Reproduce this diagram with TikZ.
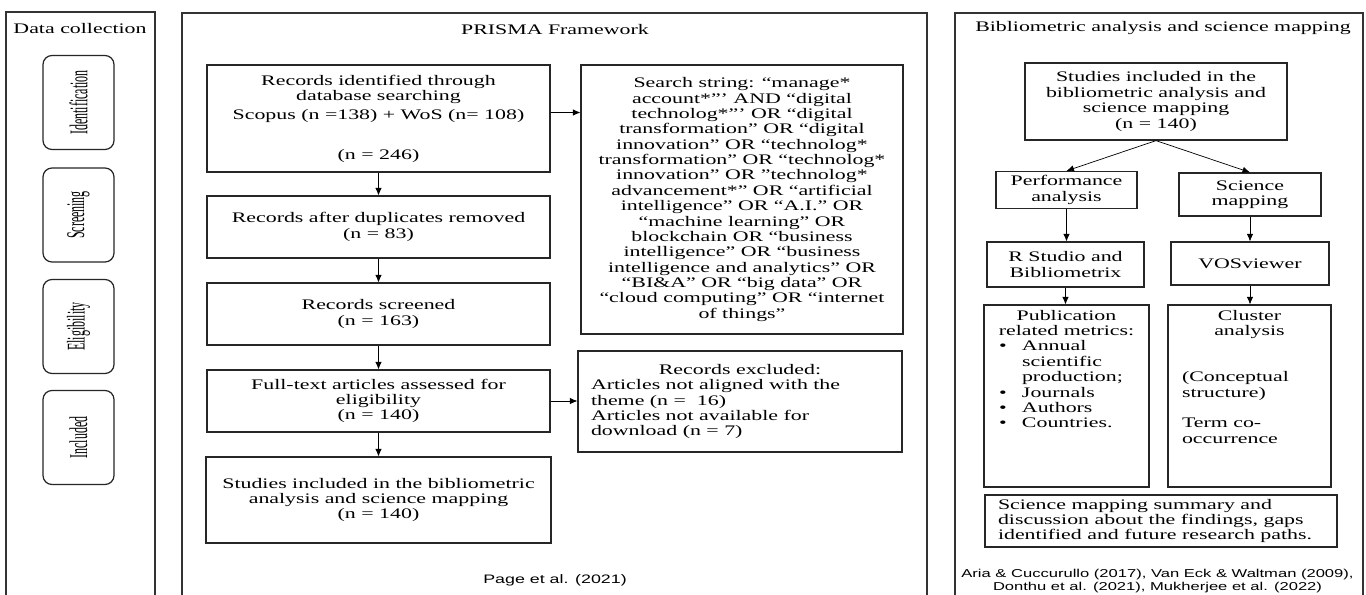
\documentclass[tikz,border=0pt]{standalone}
\usepackage{fontspec}
\usepackage{graphicx}
\setmainfont{Liberation Serif}[FakeStretch=1.5]
\newfontfamily\phasefont{Liberation Serif}[FakeStretch=0.47]
\newfontfamily\citefont{Liberation Sans}[FakeStretch=1.45]
\usetikzlibrary{arrows.meta}

\begin{document}
\begin{tikzpicture}[
    >={Latex[length=1.5mm, width=1.3mm]},
    every node/.style={font=\fontsize{8.3}{8.75}\selectfont},
    panel/.style={draw=black!80, line width=0.8pt},
    box/.style={draw=black!85, line width=0.7pt, align=center, inner sep=0pt},
    phase/.style={draw=black!85, line width=0.7pt, rounded corners=0.18cm, minimum width=1.42cm, minimum height=1.88cm, inner sep=0pt},
    cite/.style={font=\citefont\fontsize{6.5}{6.9}\selectfont, align=center}
]
    % Page
    \clip (0,0) rectangle (27.32,-11.88);
    \fill[white] (0,0) rectangle (27.32,-11.88);

    % Panels
    \draw[panel] (0.12,-0.24) rectangle (3.10,-12.2);
    \draw[panel] (3.64,-0.26) rectangle (18.54,-12.2);
    \draw[panel] (19.10,-0.26) rectangle (27.26,-12.2);

    % Titles
    \node (t1) at (1.60,-0.58) {Data collection};
    \node (t2) at (11.10,-0.60) {PRISMA Framework};
    \node (t3) at (23.26,-0.56) {Bibliometric analysis and science mapping};

    % Phases
    \node[phase] (ident) at (1.57,-2.05) {\rotatebox{90}{\phasefont\fontsize{14.5}{14.5}\selectfont Identification}};
    \node[phase] (screen) at (1.57,-4.30) {\rotatebox{90}{\phasefont\fontsize{14.5}{14.5}\selectfont Screening}};
    \node[phase] (eligib) at (1.57,-6.53) {\rotatebox{90}{\phasefont\fontsize{14.5}{14.5}\selectfont Eligibility}};
    \node[phase] (includ) at (1.57,-8.75) {\rotatebox{90}{\phasefont\fontsize{14.5}{14.5}\selectfont Included}};

    % PRISMA flow
    \node[box, minimum width=6.86cm, minimum height=2.14cm] (rec) at (7.57,-2.37) {Records identified through\\database searching\\[0.07cm]Scopus (n =138) + WoS (n= 108)\\[0.49cm](n = 246)};
    \node[box, minimum width=6.86cm, minimum height=1.24cm] (dup) at (7.57,-4.54) {Records after duplicates removed\\(n = 83)};
    \node[box, minimum width=6.86cm, minimum height=1.24cm] (scr) at (7.57,-6.28) {Records screened\\(n = 163)};
    \node[box, minimum width=6.86cm, minimum height=1.24cm] (fulltxt) at (7.57,-8.02) {Full-text articles assessed for\\eligibility\\(n = 140)};
    \node[box, minimum width=6.90cm, minimum height=1.72cm] (studies) at (7.57,-10.00) {Studies included in the bibliometric\\analysis and science mapping\\(n = 140)};

    % Search string
    \node[box, minimum width=6.44cm, minimum height=5.38cm] (srch) at (14.84,-3.99) {Search string: “manage*\\account*”’ AND “digital\\technolog*”’ OR “digital\\transformation” OR “digital\\innovation” OR “technolog*\\transformation” OR “technolog*\\innovation” OR "technolog*\\advancement*" OR “artificial\\intelligence” OR “A.I.” OR\\“machine learning” OR\\blockchain OR “business\\intelligence” OR “business\\intelligence and analytics” OR\\“BI\&A” OR “big data” OR\\“cloud computing” OR “internet\\of things”};

    % Exclusions
    \node[box, minimum width=6.48cm, minimum height=2.02cm] (excl) at (14.80,-8.03) {\parbox{5.96cm}{\centering Records excluded:\par\raggedright Articles not aligned with the\\theme (n = \ 16)\\Articles not available for\\download (n = 7)}};

    \node[cite, font=\citefont\fontsize{7}{7.4}\selectfont] (page) at (11.10,-11.60) {Page et al. (2021)};

    % Bibliometric side
    \node[box, minimum width=5.24cm, minimum height=1.54cm] (bs) at (23.12,-2.03) {Studies included in the\\bibliometric analysis and\\science mapping\\(n = 140)};
    \node[box, minimum width=2.82cm, minimum height=0.74cm] (perf) at (21.33,-3.80) {Performance\\analysis};
    \node[box, minimum width=2.84cm, minimum height=0.86cm] (smap) at (25.00,-3.89) {Science\\mapping};
    \node[box, minimum width=3.14cm, minimum height=0.90cm] (rstu) at (21.31,-5.29) {R Studio and\\Bibliometrix};
    \node[box, minimum width=3.16cm, minimum height=0.86cm] (vos) at (25.00,-5.27) {VOSviewer};
    \node[box, minimum width=3.30cm, minimum height=3.64cm] (pub) at (21.33,-7.92) {\parbox[c][3.44cm][t]{3.10cm}{\centering Publication\\related metrics:\par\raggedright
        \hspace*{0.2cm}\makebox[0.46cm][l]{\textbullet}Annual\\
        \hspace*{0.66cm}scientific\\
        \hspace*{0.66cm}production;\\
        \hspace*{0.2cm}\makebox[0.46cm][l]{\textbullet}Journals\\
        \hspace*{0.2cm}\makebox[0.46cm][l]{\textbullet}Authors\\
        \hspace*{0.2cm}\makebox[0.46cm][l]{\textbullet}Countries.}};
    \node[box, minimum width=3.26cm, minimum height=3.64cm] (clu) at (24.99,-7.92) {\parbox[c][3.44cm][t]{3.06cm}{\centering Cluster\\analysis\par
        \vspace{2\baselineskip}\raggedright\leftskip=0.18cm (Conceptual\\structure)\par
        \vspace{\baselineskip}Term co-\\occurrence}};
    \node[box, minimum width=7.04cm, minimum height=1.04cm] (summ) at (23.22,-10.42) {\parbox{6.52cm}{\raggedright Science mapping summary and\\discussion about the findings, gaps\\identified and future research paths.}};

    \node[cite] (refs) at (23.15,-11.62) {Aria \& Cuccurullo (2017), Van Eck \& Waltman (2009),\\Donthu et al. (2021), Mukherjee et al. (2022)};

    % Arrows
    \draw[->] (rec) -- (dup);
    \draw[->] (dup) -- (scr);
    \draw[->] (scr) -- (fulltxt);
    \draw[->] (fulltxt) -- (studies);
    \draw[->] ([yshift=0.12cm]rec.east) -- ([yshift=0.12cm]rec.east -| srch.west);
    \draw[->] (fulltxt.east) -- (fulltxt.east -| excl.west);
    \draw[->] (bs.south) -- (perf.north);
    \draw[->] (bs.south) -- (smap.north);
    \draw[->] (perf.south) -- (perf.south |- rstu.north);
    \draw[->] (smap.south) -- (smap.south |- vos.north);
    \draw[->] (rstu.south) -- (rstu.south |- pub.north);
    \draw[->] (vos.south) -- (vos.south |- clu.north);
\end{tikzpicture}
\end{document}
